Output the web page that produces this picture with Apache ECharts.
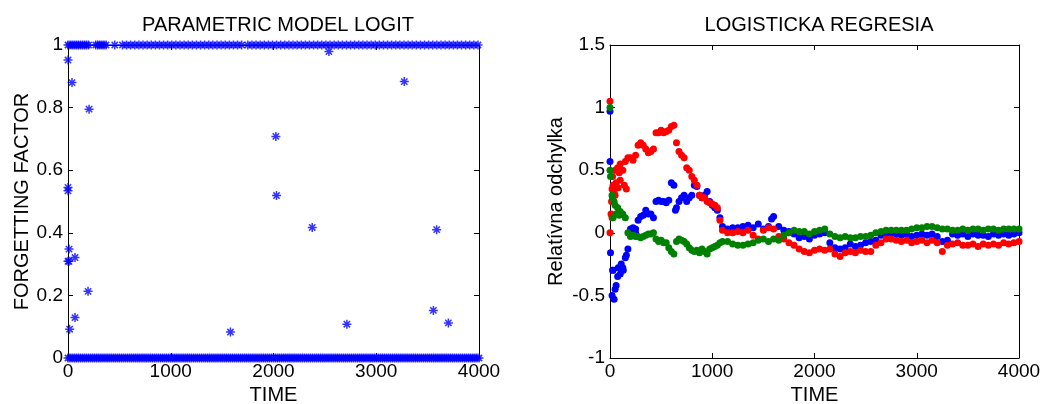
<!DOCTYPE html>
<html>
<head>
<meta charset="utf-8">
<script src="https://cdn.jsdelivr.net/npm/echarts@6/dist/echarts.min.js"></script>
<style>
html,body{margin:0;padding:0;background:#fff;}
#chart{width:1043px;height:404px;}
</style>
</head>
<body>
<div id="chart"></div>
<script>
// ---------- Left panel: forgetting factor ----------
const ffOnesTime = [0,20,40,60,80,100,120,140,160,180,200,270,290,310,330,350,370,455,530,570,610,650,690,730,770,810,850,890,930,970,1010,1050,1090,1130,1170,1210,1250,1290,1330,1370,1410,1450,1490,1530,1570,1610,1650,1690,1750,1790,1830,1870,1910,1950,1990,2030,2070,2110,2150,2190,2230,2270,2310,2350,2390,2430,2470,2510,2550,2590,2630,2670,2710,2750,2790,2830,2870,2910,2950,2990,3030,3070,3110,3150,3190,3230,3270,3310,3350,3390,3430,3470,3510,3550,3590,3630,3670,3710,3750,3790,3830,3870,3910,3950,3990];
const ffZerosTime = [0,20,40,60,80,100,120,140,160,180,200,220,240,260,280,300,320,340,360,380,400,420,440,460,480,500,520,540,560,580,600,620,640,660,680,700,720,740,760,780,800,820,840,860,880,900,920,940,960,980,1000,1020,1040,1060,1080,1100,1120,1140,1160,1180,1200,1220,1240,1260,1280,1300,1320,1340,1360,1380,1400,1420,1440,1460,1480,1500,1520,1540,1560,1580,1600,1620,1640,1660,1680,1700,1720,1740,1760,1780,1800,1820,1840,1860,1880,1900,1920,1940,1960,1980,2000,2020,2040,2060,2080,2100,2120,2140,2160,2180,2200,2220,2240,2260,2280,2300,2320,2340,2360,2380,2400,2420,2440,2460,2480,2500,2520,2540,2560,2580,2600,2620,2640,2660,2680,2700,2720,2740,2760,2780,2800,2820,2840,2860,2880,2900,2920,2940,2960,2980,3000,3020,3040,3060,3080,3100,3120,3140,3160,3180,3200,3220,3240,3260,3280,3300,3320,3340,3360,3380,3400,3420,3440,3460,3480,3500,3520,3540,3560,3580,3600,3620,3640,3660,3680,3700,3720,3740,3760,3780,3800,3820,3840,3860,3880,3900,3920,3940,3960,3980,4000];
const ffOutlierTime = [0,39,205,0,0,10,0,10,68,195,68,16,1581,2023,2029,2377,2539,2714,3273,3556,3588,3702];
const ffOutlierVals = [0.952,0.88,0.795,0.545,0.534,0.348,0.309,0.309,0.321,0.213,0.129,0.092,0.083,0.708,0.519,0.417,0.979,0.108,0.883,0.152,0.41,0.112];

// ---------- Right panel: relative deviation ----------
const regTime = [0,25,50,75,100,125,150,175,200,225,250,275,300,325,350,375,400,425,450,475,500,525,550,575,600,625,650,675,700,725,750,775,800,825,850,875,900,925,950,975,1000,1025,1050,1075,1100,
1150,1200,1250,1300,1350,1400,1450,1500,1550,1600,1650,1700,1750,1800,1850,1900,1950,2000,2050,2100,2150,2200,2250,2300,2350,2400,2450,2500,2550,2600,2650,2700,2750,2800,2850,2900,2950,3000,3050,3100,3150,3200,3250,3300,3350,3400,3450,3500,3550,3600,3650,3700,3750,3800,3850,3900,3950,4000];
const redVals = [1.05,0.45,0.5,0.52,0.55,0.5,0.57,0.6,0.6,0.58,0.62,0.7,0.72,0.7,0.67,0.64,0.65,0.67,0.8,0.8,0.82,0.8,0.81,0.82,0.85,0.86,0.72,0.65,0.62,0.6,0.52,0.5,0.45,0.42,0.38,0.3,0.28,0.28,0.25,0.24,0.23,0.22,0.2,0.1,0.02,
0.0,0.0,0.01,0.0,0.02,-0.02,-0.05,0.02,0.04,0.03,-0.03,-0.05,-0.08,-0.1,-0.13,-0.15,-0.16,-0.14,-0.13,-0.14,-0.13,-0.17,-0.19,-0.16,-0.15,-0.16,-0.14,-0.15,-0.15,-0.1,-0.08,-0.05,-0.05,-0.06,-0.07,-0.06,-0.08,-0.07,-0.06,-0.08,-0.06,-0.08,-0.15,-0.1,-0.09,-0.08,-0.1,-0.1,-0.09,-0.11,-0.09,-0.1,-0.09,-0.1,-0.08,-0.09,-0.08,-0.07];
const blueVals = [0.97,-0.3,-0.45,-0.35,-0.33,-0.28,-0.2,-0.13,0.03,0.04,0.03,0.1,0.13,0.14,0.18,0.15,0.15,0.12,0.25,0.26,0.25,0.25,0.24,0.26,0.4,0.38,0.2,0.25,0.28,0.3,0.25,0.28,0.3,0.38,0.37,0.3,0.28,0.3,0.33,0.25,0.22,0.2,0.18,0.12,0.05,
0.03,0.04,0.04,0.05,0.06,0.04,0.07,0.03,0.05,0.13,0.05,0.02,0.01,-0.01,-0.04,-0.03,-0.05,-0.02,-0.01,0.0,-0.08,-0.12,-0.13,-0.12,-0.09,-0.11,-0.1,-0.08,-0.07,-0.06,-0.02,-0.01,0.0,-0.01,-0.02,-0.01,-0.03,-0.02,-0.01,-0.02,-0.01,-0.03,-0.07,-0.06,-0.01,-0.02,-0.01,-0.03,-0.01,-0.02,-0.02,-0.03,-0.01,-0.02,-0.01,-0.02,-0.01,0.0];
const greenVals = [1.0,0.28,0.22,0.2,0.17,0.15,0.12,0.0,-0.03,-0.02,-0.03,-0.03,-0.04,-0.03,-0.02,-0.01,-0.01,0.0,-0.05,-0.07,-0.06,-0.08,-0.08,-0.12,-0.15,-0.17,-0.07,-0.05,-0.06,-0.07,-0.09,-0.12,-0.14,-0.15,-0.14,-0.16,-0.13,-0.15,-0.17,-0.13,-0.12,-0.11,-0.1,-0.08,-0.07,
-0.07,-0.09,-0.1,-0.1,-0.09,-0.08,-0.06,-0.05,-0.07,-0.05,-0.06,-0.02,0.0,0.02,0.01,0.01,-0.01,0.01,0.02,0.03,-0.01,-0.03,-0.04,-0.03,-0.04,-0.04,-0.03,-0.03,-0.02,0.0,0.01,0.02,0.02,0.02,0.02,0.02,0.03,0.04,0.04,0.05,0.05,0.04,0.03,0.03,0.02,0.02,0.03,0.02,0.03,0.03,0.02,0.03,0.03,0.02,0.03,0.03,0.03,0.03];
const redExtraTime = [0,10,15,20,30,40,50,60,80,90,100,140,160,20];
const redExtraVals = [0.0,0.15,0.25,0.35,0.38,0.32,0.3,0.4,0.36,0.48,0.42,0.38,0.35,0.12];
const blueExtraTime = [0,5,20,40,60,80,30,110,130,160,640,250,1580];
const blueExtraVals = [0.57,-0.16,-0.5,-0.53,-0.42,-0.28,-0.3,-0.25,-0.3,-0.18,0.18,0.0,0.11];
const greenExtraTime = [0,5,20,40,60,30,90];
const greenExtraVals = [0.5,0.45,0.3,0.25,0.15,0.12,0.14];

const FONT = "'Liberation Sans', Arial, Helvetica, sans-serif";
const STAR = 'path://M-1,0L1,0M0,-1L0,1M-0.7,-0.7L0.7,0.7M-0.7,0.7L0.7,-0.7';

function pairs(ts, vs){ return ts.map((t,i)=>[t, vs[i]]); }
function constPairs(ts, v){ return ts.map(t=>[t, v]); }

const chart = echarts.init(document.getElementById('chart'), null, {renderer:'canvas'});

const axisCommon = {
  axisLine:{show:true, onZero:false, lineStyle:{color:'#000', width:1}},
  axisTick:{show:true, inside:true, length:5, lineStyle:{color:'#000', width:1}},
  splitLine:{show:false},
  axisLabel:{color:'#000', fontFamily:FONT, fontSize:19}
};
function xAx(gridIndex, pos, showLabel, name){
  return Object.assign({}, axisCommon, {
    type:'value', gridIndex, position:pos, min:0, max:4000, interval:1000,
    axisLabel:Object.assign({}, axisCommon.axisLabel, {show:showLabel, margin:4, formatter:v=>String(v)}),
    name: name || '', nameLocation:'middle', nameGap:18,
    nameTextStyle:{color:'#000', fontFamily:FONT, fontSize:20}
  });
}
function yAx(gridIndex, pos, showLabel, min, max, interval, name, gap, fmt){
  return Object.assign({}, axisCommon, {
    type:'value', gridIndex, position:pos, min, max, interval,
    axisLabel:Object.assign({}, axisCommon.axisLabel, {show:showLabel, margin:5, formatter:fmt}),
    name: name || '', nameLocation:'middle', nameGap:gap||0,
    nameTextStyle:{color:'#000', fontFamily:FONT, fontSize:20}
  });
}

const option = {
  backgroundColor:'#fff',
  animation:false,
  title:[
    {text:'PARAMETRIC MODEL LOGIT', left:273, top:10, textAlign:'center',
     textStyle:{fontFamily:FONT, fontSize:20, fontWeight:'normal', color:'#000'}},
    {text:'LOGISTICKA REGRESIA', left:814, top:10, textAlign:'center',
     textStyle:{fontFamily:FONT, fontSize:20, fontWeight:'normal', color:'#000'}}
  ],
  grid:[
    {left:68, right:564, top:45, bottom:46, containLabel:false, outerBoundsMode:'none'},
    {left:610, right:24, top:45, bottom:46, containLabel:false, outerBoundsMode:'none'}
  ],
  xAxis:[
    xAx(0,'bottom',true,'TIME'),
    xAx(0,'top',false),
    xAx(1,'bottom',true,'TIME'),
    xAx(1,'top',false)
  ],
  yAxis:[
    yAx(0,'left',true,0,1,0.2,'FORGETTING FACTOR',36, v=>v===0?'0':(v===1?'1':String(+v.toFixed(1)))),
    yAx(0,'right',false,0,1,0.2),
    yAx(1,'left',true,-1,1.5,0.5,'Relatívna odchylka',44, v=>String(+v.toFixed(1))),
    yAx(1,'right',false,-1,1.5,0.5)
  ],
  series:[
    {type:'scatter', xAxisIndex:0, yAxisIndex:0, clip:false, symbol:STAR, symbolSize:9,
     itemStyle:{color:'#0000ff', borderColor:'#0000ff', borderWidth:1.5},
     data: constPairs(ffZerosTime, 0)},
    {type:'scatter', xAxisIndex:0, yAxisIndex:0, clip:false, symbol:STAR, symbolSize:9,
     itemStyle:{color:'#0000ff', borderColor:'#0000ff', borderWidth:1.5},
     data: constPairs(ffOnesTime, 1)},
    {type:'scatter', xAxisIndex:0, yAxisIndex:0, clip:false, symbol:STAR, symbolSize:9,
     itemStyle:{color:'#0000ff', borderColor:'#0000ff', borderWidth:1.5},
     data: pairs(ffOutlierTime, ffOutlierVals)},

    {type:'scatter', xAxisIndex:2, yAxisIndex:2, clip:false, symbol:'circle', symbolSize:7,
     itemStyle:{color:'#0000ff', opacity:1}, data: pairs(regTime, blueVals).concat(pairs(blueExtraTime, blueExtraVals))},
    {type:'scatter', xAxisIndex:2, yAxisIndex:2, clip:false, symbol:'circle', symbolSize:7,
     itemStyle:{color:'#ff0000', opacity:1}, data: pairs(regTime, redVals).concat(pairs(redExtraTime, redExtraVals))},
    {type:'scatter', xAxisIndex:2, yAxisIndex:2, clip:false, symbol:'circle', symbolSize:7,
     itemStyle:{color:'#008000', opacity:1}, data: pairs(regTime, greenVals).concat(pairs(greenExtraTime, greenExtraVals))}
  ]
};
chart.setOption(option);
</script>
</body>
</html>
